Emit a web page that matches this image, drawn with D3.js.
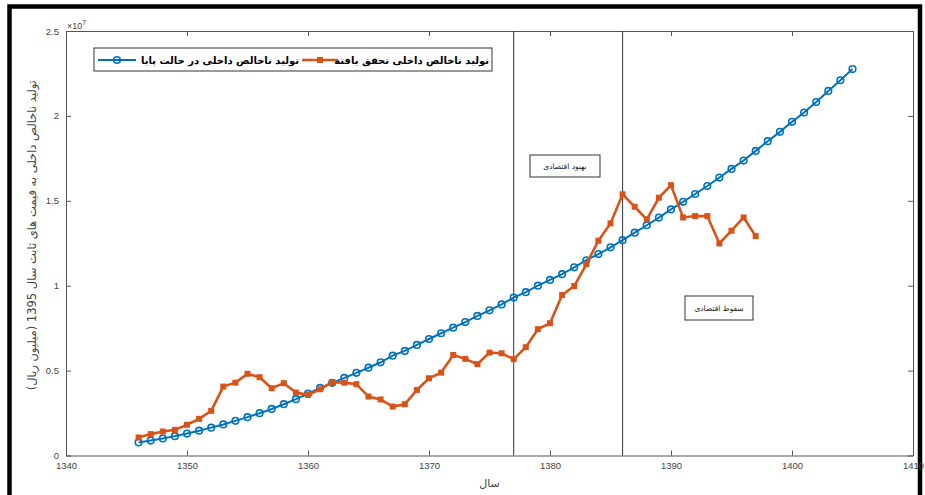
<!DOCTYPE html>
<html>
<head>
<meta charset="utf-8">
<script src="https://cdn.jsdelivr.net/npm/d3@7"></script>
<style>
  body { margin: 0; background: #fff; }
  svg { display: block; }
</style>
</head>
<body>
<svg id="chart" width="925" height="495"></svg>
<script>
// Steady-state GDP path (values in units of 10^7 million rials)
const steadyYears = [1346,1347,1348,1349,1350,1351,1352,1353,1354,1355,1356,1357,1358,1359,1360,
  1361,1362,1363,1364,1365,1366,1367,1368,1369,1370,1371,1372,1373,1374,1375,1376,1377,1378,1379,1380,
  1381,1382,1383,1384,1385,1386,1387,1388,1389,1390,1391,1392,1393,1394,1395,1396,1397,1398,1399,1400,
  1401,1402,1403,1404,1405];
const steadyGdp = [0.077,0.088,0.100,0.114,0.129,0.146,0.164,0.183,0.204,0.226,0.249,0.274,0.302,0.332,0.364,
  0.398,0.428,0.457,0.487,0.517,0.549,0.588,0.616,0.651,0.686,0.720,0.753,0.786,0.822,0.855,0.890,0.930,0.962,1.000,1.034,
  1.068,1.108,1.150,1.186,1.226,1.268,1.312,1.356,1.401,1.449,1.494,1.540,1.587,1.637,1.688,1.737,1.794,1.851,1.906,1.965,
  2.020,2.082,2.147,2.210,2.276];

// Realised GDP (same units)
const actualYears = [1346,1347,1348,1349,1350,1351,1352,1353,1354,1355,1356,1357,1358,1359,1360,
  1361,1362,1363,1364,1365,1366,1367,1368,1369,1370,1371,1372,1373,1374,1375,1376,1377,1378,1379,1380,
  1381,1382,1383,1384,1385,1386,1387,1388,1389,1390,1391,1392,1393,1394,1395,1396,1397];
const actualGdp = [0.106,0.126,0.141,0.151,0.181,0.216,0.263,0.406,0.429,0.481,0.461,0.396,0.426,0.371,0.357,
  0.390,0.432,0.429,0.420,0.347,0.330,0.288,0.302,0.386,0.455,0.488,0.592,0.569,0.538,0.606,0.602,0.567,0.638,0.744,0.779,
  0.945,0.998,1.126,1.265,1.367,1.538,1.465,1.391,1.518,1.592,1.402,1.410,1.410,1.249,1.324,1.402,1.292];

const xTicks = [1340,1350,1360,1370,1380,1390,1400,1410];
const yTicks = [0,0.5,1,1.5,2,2.5];
const yTickLabels = ["0","0.5","1","1.5","2","2.5"];

const phaseYears = [1377,1386];
const phaseLabels = ["بهبود اقتصادی","سقوط اقتصادی"];
const seriesNames = ["تولید ناخالص داخلی در حالت پایا","تولید ناخالص داخلی تحقق یافته"];
const xLabel = "سال";
const yLabel = "تولید ناخالص داخلی به قیمت های ثابت سال 1395 (میلیون ریال)";

const BLUE = "#0072BD", ORANGE = "#D95319", AXIS = "#555", LABEL = "#444";
const FA = "'DejaVu Sans', sans-serif";
const LAT = "'Liberation Sans', Arial, sans-serif";

const svg = d3.select("#chart");
const plotL = 66, plotR = 913, plotT = 31, plotB = 455.5;

const x = d3.scaleLinear().domain([1340,1410]).range([plotL,plotR]);
const y = d3.scaleLinear().domain([0,2.5]).range([plotB,plotT]);

// Outer black frame
svg.append("path")
  .attr("d", `M9.5,495 L9.5,6.5 L920,6.5 L920,495`)
  .attr("fill","none").attr("stroke","#000").attr("stroke-width",4.5);

// Axes (boxed axes with inward ticks)
function styleAxis(g) {
  g.select(".domain").attr("stroke",AXIS).attr("stroke-width",1);
  g.selectAll(".tick line").attr("stroke",AXIS);
  g.selectAll(".tick text").attr("fill",LABEL).style("font-family",LAT).style("font-size","9.5px");
}
svg.append("g").attr("transform",`translate(0,${plotB})`)
  .call(d3.axisBottom(x).tickValues(xTicks).tickFormat(d3.format("d")).tickSize(-5).tickSizeOuter(0).tickPadding(7))
  .call(styleAxis);
svg.append("g").attr("transform",`translate(0,${plotT})`)
  .call(d3.axisTop(x).tickValues(xTicks).tickFormat("").tickSize(-5).tickSizeOuter(0))
  .call(styleAxis);
svg.append("g").attr("transform",`translate(${plotL},0)`)
  .call(d3.axisLeft(y).tickValues(yTicks).tickFormat((d,i)=>yTickLabels[i]).tickSize(-5).tickSizeOuter(0).tickPadding(7))
  .call(styleAxis);
svg.append("g").attr("transform",`translate(${plotR},0)`)
  .call(d3.axisRight(y).tickValues(yTicks).tickFormat("").tickSize(-5).tickSizeOuter(0))
  .call(styleAxis);

// Exponent marker
const expo = svg.append("text").attr("x",plotL+1).attr("y",plotT-2)
  .attr("fill",LABEL).style("font-family",LAT).style("font-size","9px");
expo.append("tspan").text("×10");
expo.append("tspan").attr("dy",-4).style("font-size","7px").text("7");

// Axis titles
svg.append("text").attr("x",(plotL+plotR)/2).attr("y",487)
  .attr("text-anchor","middle").attr("fill",LABEL)
  .style("font-family",FA).style("font-size","11px").text(xLabel);
svg.append("text")
  .attr("transform",`translate(36,${(plotT+plotB)/2 - 8}) rotate(-90)`)
  .attr("text-anchor","middle").attr("fill",LABEL)
  .style("direction","rtl").style("unicode-bidi","embed")
  .style("font-family",FA).style("font-size","11.5px").text(yLabel);

// Phase boundaries
svg.selectAll("line.phase").data(phaseYears).join("line").attr("class","phase")
  .attr("x1",d=>x(d)).attr("x2",d=>x(d)).attr("y1",plotT).attr("y2",plotB)
  .attr("stroke","#333").attr("stroke-width",1);

// Phase annotation boxes
const notes = [
  {label: phaseLabels[0], cx: 565, cy: 166, w: 70, h: 22},
  {label: phaseLabels[1], cx: 719, cy: 308, w: 68, h: 24}
];
notes.forEach(n => {
  svg.append("rect").attr("x",n.cx-n.w/2).attr("y",n.cy-n.h/2).attr("width",n.w).attr("height",n.h)
    .attr("fill","#fff").attr("stroke","#333").attr("stroke-width",1);
  svg.append("text").attr("x",n.cx).attr("y",n.cy+3).attr("text-anchor","middle")
    .attr("fill","#222").style("font-family",FA).style("font-size","7.5px").text(n.label);
});

// Series
const steady = steadyYears.map((yr,i)=>({yr, v: steadyGdp[i]}));
const actual = actualYears.map((yr,i)=>({yr, v: actualGdp[i]}));
const line = d3.line().x(d=>x(d.yr)).y(d=>y(d.v));

svg.append("path").datum(steady).attr("d",line)
  .attr("fill","none").attr("stroke",BLUE).attr("stroke-width",2);
svg.selectAll("circle.steady").data(steady).join("circle").attr("class","steady")
  .attr("cx",d=>x(d.yr)).attr("cy",d=>y(d.v)).attr("r",3.3)
  .attr("fill","none").attr("stroke",BLUE).attr("stroke-width",1.6);

svg.append("path").datum(actual).attr("d",line)
  .attr("fill","none").attr("stroke",ORANGE).attr("stroke-width",2.6);
svg.selectAll("rect.actual").data(actual).join("rect").attr("class","actual")
  .attr("x",d=>x(d.yr)-3).attr("y",d=>y(d.v)-3).attr("width",6).attr("height",6)
  .attr("fill",ORANGE);

// Legend
const lg = svg.append("g");
lg.append("rect").attr("x",94).attr("y",48).attr("width",398).attr("height",23)
  .attr("fill","#fff").attr("stroke","#333").attr("stroke-width",1);
const ly = 60;
// steady-state entry
lg.append("line").attr("x1",98).attr("x2",136).attr("y1",ly).attr("y2",ly)
  .attr("stroke",BLUE).attr("stroke-width",2);
lg.append("circle").attr("cx",117).attr("cy",ly).attr("r",3.3)
  .attr("fill","none").attr("stroke",BLUE).attr("stroke-width",1.6);
lg.append("text").attr("x",299).attr("y",ly+4).attr("text-anchor","end")
  .attr("fill","#000").style("font-family",FA).style("font-weight","bold").style("font-size","10px")
  .text(seriesNames[0]);
// realised entry
lg.append("line").attr("x1",302).attr("x2",338).attr("y1",ly).attr("y2",ly)
  .attr("stroke",ORANGE).attr("stroke-width",2.6);
lg.append("rect").attr("x",317).attr("y",ly-3).attr("width",6).attr("height",6).attr("fill",ORANGE);
lg.append("text").attr("x",489).attr("y",ly+4).attr("text-anchor","end")
  .attr("fill","#000").style("font-family",FA).style("font-weight","bold").style("font-size","10px")
  .text(seriesNames[1]);
</script>
</body>
</html>
